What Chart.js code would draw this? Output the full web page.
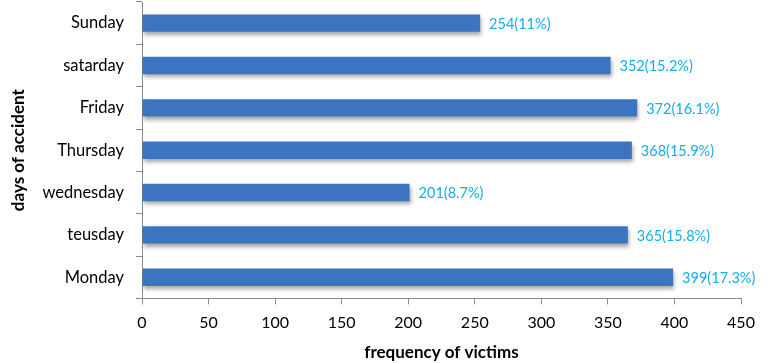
<!DOCTYPE html>
<html>
<head>
<meta charset="utf-8">
<script src="https://cdn.jsdelivr.net/npm/chart.js@4.4.1/dist/chart.umd.min.js"></script>
<style>
  html, body { margin: 0; padding: 0; background: #fff; }
  #wrap { width: 771px; height: 363px; position: relative; }
</style>
</head>
<body>
<div id="wrap"><canvas id="daysChart"></canvas></div>
<script>
// chart data
const days = ['Sunday', 'satarday', 'Friday', 'Thursday', 'wednesday', 'teusday', 'Monday'];
const victims = [254, 352, 372, 368, 201, 365, 399];
const shares = ['11%', '15.2%', '16.1%', '15.9%', '8.7%', '15.8%', '17.3%'];
const xTicks = [0, 50, 100, 150, 200, 250, 300, 350, 400, 450];

const FONT = 'Lato, "Open Sans", sans-serif';

// vertical gradient per bar, like the old office 3D-ish look
const barFill = (context) => {
    const chart = context.chart;
    const el = context.element;
    if (!chart.chartArea || !el || el.y === undefined || !el.height) return '#3D74C0';
    const top = el.y - el.height / 2;
    const bottom = el.y + el.height / 2;
    const g = chart.ctx.createLinearGradient(0, top, 0, bottom);
    g.addColorStop(0, '#8DB3E2');
    g.addColorStop(0.12, '#4A82CC');
    g.addColorStop(0.55, '#3B72BE');
    g.addColorStop(0.9, '#2E5E9F');
    g.addColorStop(1, '#3A6FB0');
    return g;
};

// soft shadow under the bars
const barShadow = {
    id: 'barShadow',
    beforeDatasetsDraw: (chart) => {
        const ctx = chart.ctx;
        ctx.save();
        ctx.shadowColor = 'rgba(0,0,0,0.35)';
        ctx.shadowBlur = 4;
        ctx.shadowOffsetX = 1;
        ctx.shadowOffsetY = 3;
    },
    afterDatasetsDraw: (chart) => {
        chart.ctx.restore();
    }
};

// value(percent) labels after each bar end
const valueLabels = {
    id: 'valueLabels',
    afterDatasetsDraw: (chart) => {
        const ctx = chart.ctx;
        const meta = chart.getDatasetMeta(0);
        ctx.save();
        ctx.fillStyle = '#12AEEE';
        ctx.font = '14.5px ' + FONT;
        ctx.textAlign = 'left';
        ctx.textBaseline = 'middle';
        meta.data.forEach((bar, i) => {
            ctx.fillText(victims[i] + '(' + shares[i] + ')', bar.x + 9, bar.y + 1);
        });
        ctx.restore();
    }
};

new Chart(document.getElementById('daysChart'), {
    type: 'bar',
    data: {
        labels: days,
        datasets: [{
            label: 'frequency of victims',
            data: victims,
            backgroundColor: barFill,
            borderWidth: 0,
            barPercentage: 0.41,
            categoryPercentage: 1
        }]
    },
    options: {
        indexAxis: 'y',
        responsive: true,
        maintainAspectRatio: false,
        animation: false,
        layout: { padding: { top: 2, right: 30, left: 6, bottom: 0 } },
        plugins: {
            legend: { display: false },
            tooltip: { enabled: false }
        },
        scales: {
            x: {
                min: 0,
                max: 450,
                afterBuildTicks: (axis) => { axis.ticks = xTicks.map(v => ({ value: v })); },
                grid: { display: true, drawOnChartArea: false, color: '#8C8C8C', tickLength: 6 },
                border: { color: '#8C8C8C' },
                ticks: { color: '#000', font: { family: FONT, size: 16 }, padding: 9 },
                title: { display: true, text: 'frequency of victims', color: '#000', font: { family: FONT, size: 17, weight: 'bold' }, padding: { top: 1, bottom: 0 } }
            },
            y: {
                // labels sit mid-category, so no extra room is needed above/below
                afterFit: (axis) => { axis.paddingTop = 0; axis.paddingBottom = 0; },
                grid: { display: true, drawOnChartArea: false, color: '#8C8C8C', tickLength: 6, offset: true },
                border: { color: '#8C8C8C' },
                ticks: { color: '#000', font: { family: FONT, size: 16.5 }, padding: 12 },
                title: { display: true, text: 'days of accident', color: '#000', font: { family: FONT, size: 17, weight: 'bold' }, padding: { top: 2, bottom: 2 } }
            }
        }
    },
    plugins: [barShadow, valueLabels]
});
</script>
</body>
</html>
